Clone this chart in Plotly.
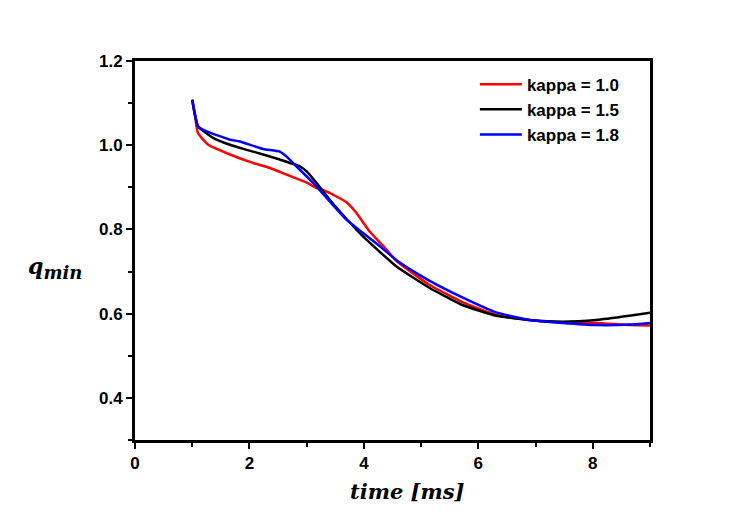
import plotly.graph_objects as go

# kappa = 1.0
t_k10 = [1.0, 1.05, 1.1, 1.28, 1.66, 2.06, 2.36, 2.65, 3.0, 3.17, 3.40, 3.69, 3.87, 4.10, 4.33, 4.57, 5.15, 5.73, 6.31, 6.89, 7.47, 8.06, 8.64, 9.0]
q_k10 = [1.108, 1.068, 1.029, 1.001, 0.978, 0.958, 0.946, 0.930, 0.911, 0.899, 0.887, 0.865, 0.839, 0.795, 0.762, 0.725, 0.668, 0.627, 0.597, 0.585, 0.579, 0.578, 0.573, 0.572]

# kappa = 1.5
t_k15 = [1.0, 1.1, 1.37, 1.66, 1.95, 2.24, 2.53, 2.88, 3.0, 3.17, 3.40, 3.69, 3.98, 4.57, 5.15, 5.73, 6.31, 6.89, 7.47, 8.06, 8.64, 9.0]
q_k15 = [1.108, 1.045, 1.017, 1.001, 0.989, 0.978, 0.966, 0.950, 0.938, 0.911, 0.871, 0.826, 0.784, 0.712, 0.661, 0.620, 0.595, 0.585, 0.581, 0.585, 0.595, 0.602]

# kappa = 1.8
t_k18 = [1.0, 1.105, 1.25, 1.66, 1.83, 2.24, 2.53, 2.65, 2.82, 3.11, 3.40, 3.69, 3.98, 4.28, 4.57, 4.86, 5.15, 5.73, 6.31, 6.89, 7.47, 8.06, 8.64, 9.0]
q_k18 = [1.108, 1.044, 1.033, 1.013, 1.009, 0.991, 0.985, 0.973, 0.950, 0.911, 0.867, 0.824, 0.792, 0.760, 0.727, 0.701, 0.678, 0.638, 0.603, 0.585, 0.578, 0.573, 0.574, 0.578]

series_names = ["kappa = 1.0", "kappa = 1.5", "kappa = 1.8"]
series_colors = ["#ff0000", "#000000", "#0000ff"]

fig = go.Figure()
for name, col, t, q in zip(series_names, series_colors,
                           [t_k10, t_k15, t_k18], [q_k10, q_k15, q_k18]):
    fig.add_trace(go.Scatter(x=t, y=q, mode="lines", name=name,
                             line=dict(color=col, width=2.5, shape="spline", smoothing=0.4)))

tickfont = dict(family="Liberation Sans, Arial", size=17, color="black", weight="bold")

fig.update_layout(
    width=746, height=521,
    margin=dict(l=127, r=104, t=53, b=89),
    paper_bgcolor="white", plot_bgcolor="white",
    showlegend=True,
    legend=dict(x=0.66, y=0.985, xanchor="left", yanchor="top",
                font=dict(family="Liberation Sans, Arial", size=17, color="black", weight="bold"),
                bgcolor="rgba(0,0,0,0)", tracegroupgap=0, itemwidth=42),
    xaxis=dict(range=[0, 9], tick0=0, dtick=2, ticks="outside", ticklen=6, tickwidth=2,
               tickcolor="black", showline=True, linecolor="black", linewidth=3,
               mirror=True, showgrid=False, zeroline=False, tickfont=tickfont,
               minor=dict(dtick=1, ticks="outside", ticklen=4, tickwidth=2, tickcolor="black", showgrid=False)),
    yaxis=dict(range=[0.3, 1.2], tick0=0, dtick=0.2, ticks="outside", ticklen=6, tickwidth=2,
               tickcolor="black", showline=True, linecolor="black", linewidth=3,
               mirror=True, showgrid=False, zeroline=False, tickfont=tickfont,
               tickformat=".1f",
               minor=dict(dtick=0.1, ticks="outside", ticklen=4, tickwidth=2, tickcolor="black", showgrid=False)),
)

fig.add_annotation(xref="paper", yref="paper", x=0.53, y=-0.135, xanchor="center", yanchor="middle",
                   text="<b><i>time [ms]</i></b>", showarrow=False,
                   font=dict(family="DejaVu Serif", size=21, color="black"))
fig.add_annotation(xref="paper", yref="paper", x=-0.155, y=0.455, xanchor="center", yanchor="middle",
                   text="<b><i>q<sub><span style=\"font-size:18px\">min</span></sub></i></b>", showarrow=False,
                   font=dict(family="DejaVu Serif", size=22, color="black"))

fig.write_html("out.html")
